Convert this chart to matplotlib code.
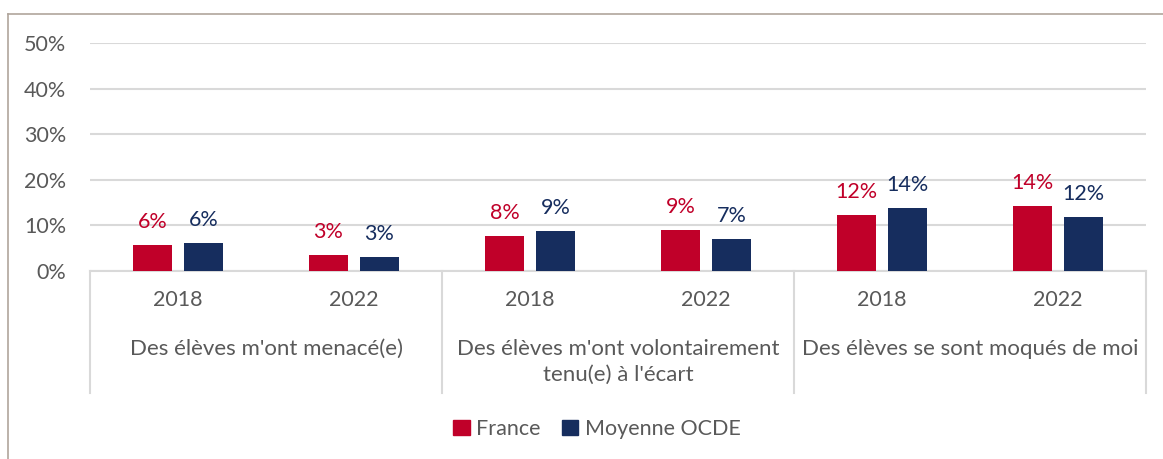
import matplotlib.pyplot as plt
from matplotlib.patches import Patch
from matplotlib.lines import Line2D
import matplotlib.transforms as mtransforms

plt.rcParams['font.family'] = ['Lato', 'DejaVu Sans']

categories = ["Des élèves m'ont menacé(e)",
              "Des élèves m'ont volontairement\ntenu(e) à l'écart",
              "Des élèves se sont moqués de moi"]
years = ["2018", "2022"]
france = [5.7, 3.5, 7.7, 9.0, 12.3, 14.3]
ocde = [6.1, 3.1, 8.8, 7.0, 13.8, 11.8]
france_labels = ["6%", "3%", "8%", "9%", "12%", "14%"]
ocde_labels = ["6%", "3%", "9%", "7%", "14%", "12%"]
yticks = [0, 10, 20, 30, 40, 50]

red = '#c00029'
navy = '#162d5e'
grey_txt = '#595959'
grid_c = '#d9d9d9'
fs = 15.5

W, H = 1163, 459
fig = plt.figure(figsize=(W / 100, H / 100), dpi=100)
left, right, top, bottom = 90, 1146, 43, 271
ax = fig.add_axes([left / W, 1 - bottom / H, (right - left) / W, (bottom - top) / H])

x = list(range(len(france)))
bw = 0.22
off = 0.145
xf = [i - off for i in x]
xo = [i + off for i in x]
ax.bar(xf, france, width=bw, color=red, zorder=3)
ax.bar(xo, ocde, width=bw, color=navy, zorder=3)

for xi, v, lab in zip(xf, france, france_labels):
    ax.annotate(lab, (xi, v), xytext=(0, 13), textcoords='offset pixels',
                ha='center', va='bottom', color=red, fontsize=fs)
for xi, v, lab in zip(xo, ocde, ocde_labels):
    ax.annotate(lab, (xi, v), xytext=(0, 13), textcoords='offset pixels',
                ha='center', va='bottom', color=navy, fontsize=fs)

ax.set_xlim(-0.5, len(france) - 0.5)
ax.set_ylim(0, 50)
ax.set_yticks(yticks)
ax.set_yticklabels([f"{t}%" for t in yticks], color=grey_txt, fontsize=fs)
ax.tick_params(axis='y', length=0, pad=17)
ax.tick_params(axis='x', length=0, labelbottom=False)
ax.grid(axis='y', color=grid_c, linewidth=1.5, zorder=0)
for s in ['top', 'right', 'left']:
    ax.spines[s].set_visible(False)
ax.spines['bottom'].set_color(grid_c)
ax.spines['bottom'].set_linewidth(1.5)

# hierarchical category axis
trans = mtransforms.blended_transform_factory(ax.transData, ax.transAxes)
ah = bottom - top
for i in x:
    ax.text(i, (bottom - 300) / ah, years[i % 2], transform=trans, ha='center',
            va='center', color=grey_txt, fontsize=fs)
for j, cat in enumerate(categories):
    ax.text(2 * j + 0.5, (bottom - 339) / ah, cat, transform=trans, ha='center',
            va='top', color=grey_txt, fontsize=16, linespacing=1.35)
for sx in [-0.5, 1.5, 3.5, 5.5]:
    ax.add_line(Line2D([sx, sx], [0, (bottom - 393) / ah], transform=trans,
                       color=grid_c, linewidth=1.5, clip_on=False))

# legend
handles = [Patch(color=red, label='France'), Patch(color=navy, label='Moyenne OCDE')]
leg = fig.legend(handles=handles, loc='center', ncol=2, frameon=False,
                 bbox_to_anchor=(597 / W, 1 - 429 / H), fontsize=fs,
                 handlelength=0.75, handleheight=0.75, handletextpad=0.3,
                 columnspacing=1.0)
for t in leg.get_texts():
    t.set_color(grey_txt)

# outer frame
frame_c = '#b0a59c'
fig.add_artist(Line2D([8 / W, 8 / W], [0, 1 - 14 / H], transform=fig.transFigure,
                      color=frame_c, linewidth=1.2))
fig.add_artist(Line2D([8 / W, 1], [1 - 14 / H, 1 - 14 / H], transform=fig.transFigure,
                      color=frame_c, linewidth=1.2))

fig.savefig('out.png', dpi=100)
